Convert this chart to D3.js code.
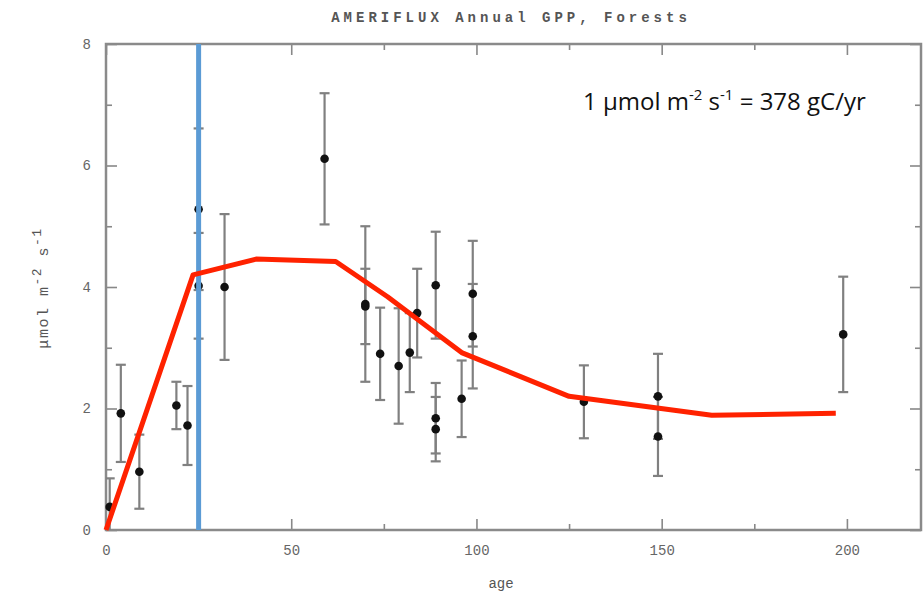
<!DOCTYPE html>
<html>
<head>
<meta charset="utf-8">
<script src="https://cdn.jsdelivr.net/npm/d3@7"></script>
<style>
  body { margin: 0; background: #fff; }
  .tick text { font-family: "Liberation Mono", monospace; font-size: 14px; fill: #666; }
  .axis path { display: none; }
  .axis line { stroke: #888; stroke-width: 1.6; }
</style>
</head>
<body>
<div id="chart-area"></div>
<script>

// Site data
var ages   = [1, 4, 9, 19, 22, 25, 25, 32, 59, 70, 70, 74, 79, 82, 84, 89, 89, 89, 96, 99, 99, 129, 149, 149, 199];
var gpp    = [0.38, 1.92, 0.96, 2.05, 1.72, 5.28, 4.02, 4.0, 6.11, 3.72, 3.68, 2.9, 2.7, 2.92, 3.57, 4.03, 1.84, 1.66, 2.16, 3.89, 3.19, 2.11, 2.2, 1.54, 3.22];
var gppErr = [0.47, 0.8, 0.61, 0.39, 0.65, 1.33, 0.87, 1.2, 1.08, 1.28, 0.62, 0.76, 0.95, 0.65, 0.73, 0.88, 0.58, 0.53, 0.63, 0.87, 0.86, 0.6, 0.7, 0.65, 0.95];

// Red fitted curve
var curveAge = [0, 23.5, 40.5, 62, 76, 96, 125, 163.5, 197];
var curveGpp = [0, 4.2, 4.46, 4.42, 3.84, 2.92, 2.2, 1.89, 1.92];

var markAge = 25;

var xTicks = [0, 50, 100, 150, 200];
var xMinor = [25, 75, 125, 175];
var yTicks = [0, 2, 4, 6, 8];
var yMinor = [1, 3, 5, 7];

var margin = {top: 44, right: 3, bottom: 64, left: 106};
var width = 924 - margin.left - margin.right,
    height = 594 - margin.top - margin.bottom;

var root = d3.select("#chart-area").append("svg")
    .attr("width", 924)
    .attr("height", 594);

var svg = root.append("g")
    .attr("transform", `translate(${margin.left}, ${margin.top})`);

// Scales
var x = d3.scaleLinear().domain([0, 220]).range([0, width]);
var y = d3.scaleLinear().domain([0, 8]).range([height, 0]);

svg.append("clipPath").attr("id", "plot-clip")
    .append("rect").attr("width", width).attr("height", height);

// Axes, ticks inward on all four sides
svg.append("g").attr("class", "axis")
    .attr("transform", `translate(0, ${height})`)
    .call(d3.axisBottom(x).tickValues(xTicks).tickSize(-11).tickPadding(15));
svg.append("g").attr("class", "axis")
    .attr("transform", `translate(0, ${height})`)
    .call(d3.axisBottom(x).tickValues(xMinor).tickSize(-6).tickFormat(""));
svg.append("g").attr("class", "axis")
    .call(d3.axisTop(x).tickValues(xTicks).tickSize(-11).tickFormat(""));
svg.append("g").attr("class", "axis")
    .call(d3.axisTop(x).tickValues(xMinor).tickSize(-6).tickFormat(""));

svg.append("g").attr("class", "axis")
    .call(d3.axisLeft(y).tickValues(yTicks).tickSize(-11).tickPadding(15));
svg.append("g").attr("class", "axis")
    .call(d3.axisLeft(y).tickValues(yMinor).tickSize(-6).tickFormat(""));
svg.append("g").attr("class", "axis")
    .attr("transform", `translate(${width}, 0)`)
    .call(d3.axisRight(y).tickValues(yTicks).tickSize(-11).tickFormat(""));
svg.append("g").attr("class", "axis")
    .attr("transform", `translate(${width}, 0)`)
    .call(d3.axisRight(y).tickValues(yMinor).tickSize(-6).tickFormat(""));

// Frame
svg.append("rect")
    .attr("width", width)
    .attr("height", height)
    .attr("fill", "none")
    .attr("stroke", "#8a8a8a")
    .attr("stroke-width", 2.5);

// Error bars
var pts = ages.map((a, i) => ({age: a, v: gpp[i], e: gppErr[i]}));
var bars = svg.append("g").attr("clip-path", "url(#plot-clip)")
    .attr("stroke", "#808080").attr("stroke-width", 2.2);

bars.selectAll(".err").data(pts).join("line")
    .attr("x1", d => x(d.age)).attr("x2", d => x(d.age))
    .attr("y1", d => y(d.v + d.e)).attr("y2", d => y(d.v - d.e));
bars.selectAll(".cap-top").data(pts).join("line")
    .attr("x1", d => x(d.age) - 5).attr("x2", d => x(d.age) + 5)
    .attr("y1", d => y(d.v + d.e)).attr("y2", d => y(d.v + d.e));
bars.selectAll(".cap-bot").data(pts).join("line")
    .attr("x1", d => x(d.age) - 5).attr("x2", d => x(d.age) + 5)
    .attr("y1", d => y(d.v - d.e)).attr("y2", d => y(d.v - d.e));

svg.append("g").selectAll("circle").data(pts).join("circle")
    .attr("cx", d => x(d.age))
    .attr("cy", d => y(d.v))
    .attr("r", 4.3)
    .attr("fill", "#111");

// Blue marker line
svg.append("line")
    .attr("x1", x(markAge)).attr("x2", x(markAge))
    .attr("y1", 0).attr("y2", height)
    .attr("stroke", "#5b9bd5")
    .attr("stroke-width", 5);

// Red curve
var line = d3.line().x(d => x(d[0])).y(d => y(d[1]));
svg.append("path")
    .datum(curveAge.map((a, i) => [a, curveGpp[i]]))
    .attr("d", line)
    .attr("fill", "none")
    .attr("stroke", "#ff2200")
    .attr("stroke-width", 5)
    .attr("stroke-linejoin", "round");

// Title and axis labels
root.append("text")
    .attr("x", 511).attr("y", 22)
    .attr("text-anchor", "middle")
    .style("font-family", "Liberation Mono, monospace")
    .style("font-size", "14px")
    .style("font-weight", "bold")
    .style("letter-spacing", "4px")
    .style("fill", "#555")
    .text("AMERIFLUX Annual GPP, Forests");

root.append("text")
    .attr("x", 501).attr("y", 588)
    .attr("text-anchor", "middle")
    .style("font-family", "Liberation Mono, monospace")
    .style("font-size", "14px")
    .style("fill", "#555")
    .text("age");

var ylab = root.append("text")
    .attr("transform", "translate(48, 288) rotate(-90)")
    .attr("text-anchor", "middle")
    .style("font-family", "Liberation Mono, monospace")
    .style("font-size", "15px")
    .style("letter-spacing", "1.5px")
    .style("fill", "#555");
ylab.append("tspan").text("μmol m");
ylab.append("tspan").attr("dy", -7).style("font-size", "13px").text("-2");
ylab.append("tspan").attr("dy", 7).text(" s");
ylab.append("tspan").attr("dy", -7).style("font-size", "13px").text("-1");

// Conversion note
var note = root.append("text")
    .attr("x", 583).attr("y", 110)
    .style("font-family", "Open Sans, sans-serif")
    .style("font-size", "24px")
    .style("fill", "#111");
note.append("tspan").text("1 μmol m");
note.append("tspan").attr("dy", -10).style("font-size", "15px").text("-2");
note.append("tspan").attr("dy", 10).text(" s");
note.append("tspan").attr("dy", -10).style("font-size", "15px").text("-1");
note.append("tspan").attr("dy", 10).text(" = 378 gC/yr");

</script>
</body>
</html>
